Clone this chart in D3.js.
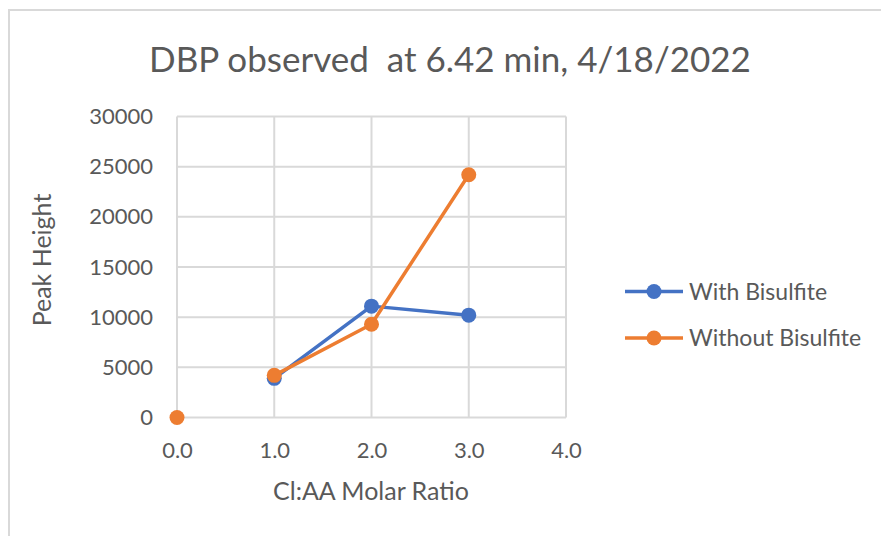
<!DOCTYPE html>
<html>
<head>
<meta charset="utf-8">
<script src="https://cdn.jsdelivr.net/npm/d3@7"></script>
<style>
  body { margin: 0; background: #fff; }
  text { font-family: Lato, "Open Sans", sans-serif; fill: #595959; }
</style>
</head>
<body>
<div id="chart"></div>
<script>
// Data
const seriesNames = ["With Bisulfite", "Without Bisulfite"];
const withX = [1, 2, 3];
const withY = [3900, 11100, 10200];
// null marks a break in the line (the 0.0 point stands alone)
const withoutX = [0, null, 1, 2, 3];
const withoutY = [0, null, 4200, 9300, 24200];
const xTicks = [0, 1, 2, 3, 4];
const yTicks = [0, 5000, 10000, 15000, 20000, 25000, 30000];

const width = 881, height = 536;
const colors = ["#4472C4", "#ED7D31"];

const svg = d3.select('#chart')
    .append('svg')
    .attr('width', width)
    .attr('height', height);

// chart border
svg.append('rect')
    .attr('x', 9).attr('y', 10)
    .attr('width', 900).attr('height', 600)
    .attr('fill', 'none')
    .attr('stroke', '#d9d9d9')
    .attr('stroke-width', 2);

const x = d3.scaleLinear().domain([0, 4]).range([177, 566]);
const y = d3.scaleLinear().domain([0, 30000]).range([417.5, 116.5]);

// gridlines
svg.append('g')
    .selectAll('line.h')
    .data(yTicks)
    .join('line')
    .attr('x1', x(0)).attr('x2', x(4))
    .attr('y1', d => y(d)).attr('y2', d => y(d))
    .attr('stroke', '#d9d9d9').attr('stroke-width', 2);

svg.append('g')
    .selectAll('line.v')
    .data(xTicks)
    .join('line')
    .attr('x1', d => x(d)).attr('x2', d => x(d))
    .attr('y1', y(0)).attr('y2', y(30000))
    .attr('stroke', '#d9d9d9').attr('stroke-width', 2);

// axes (labels only)
const yAxis = svg.append('g')
    .attr('transform', 'translate(' + 153 + ',0)')
    .call(d3.axisLeft(y).tickValues(yTicks).tickSize(0).tickPadding(0).tickFormat(d3.format('d')));
const xAxis = svg.append('g')
    .attr('transform', 'translate(0,' + 442 + ')')
    .call(d3.axisBottom(x).tickValues(xTicks).tickSize(0).tickPadding(0).tickFormat(d3.format('.1f')));
svg.selectAll('.domain').remove();
svg.selectAll('.tick text')
    .style('font-size', '22px')
    .style('font-family', 'Lato, sans-serif')
    .attr('fill', '#595959');

// title and axis titles
svg.append('text')
    .attr('x', 450).attr('y', 72)
    .attr('text-anchor', 'middle')
    .attr('xml:space', 'preserve')
    .style('font-size', '35px')
    .text('DBP observed  at 6.42 min, 4/18/2022');

svg.append('text')
    .attr('transform', 'translate(51,260) rotate(-90)')
    .attr('text-anchor', 'middle')
    .style('font-size', '25px')
    .text('Peak Height');

svg.append('text')
    .attr('x', 371).attr('y', 500)
    .attr('text-anchor', 'middle')
    .style('font-size', '25px')
    .text('Cl:AA Molar Ratio');

// series
const series = [
    withX.map((d, i) => ({ x: d, y: withY[i] })),
    withoutX.map((d, i) => ({ x: d, y: withoutY[i] }))
];

const line = d3.line()
    .defined(d => d.x !== null && d.y !== null)
    .x(d => x(d.x))
    .y(d => y(d.y));

series.forEach((s, i) => {
    svg.append('path')
        .datum(s)
        .attr('d', line)
        .attr('fill', 'none')
        .attr('stroke', colors[i])
        .attr('stroke-width', 3.5)
        .attr('stroke-linejoin', 'round');
});
series.forEach((s, i) => {
    svg.append('g')
        .selectAll('circle')
        .data(s.filter(d => d.x !== null))
        .join('circle')
        .attr('cx', d => x(d.x))
        .attr('cy', d => y(d.y))
        .attr('r', 7.5)
        .attr('fill', colors[i]);
});

// legend
const legend = svg.append('g')
    .selectAll('g')
    .data(seriesNames)
    .join('g')
    .attr('transform', (d, i) => 'translate(625,' + (291.5 + i * 46.5) + ')');
legend.append('line')
    .attr('x1', 0).attr('x2', 58)
    .attr('stroke', (d, i) => colors[i])
    .attr('stroke-width', 3.5);
legend.append('circle')
    .attr('cx', 29).attr('r', 7.5)
    .attr('fill', (d, i) => colors[i]);
legend.append('text')
    .attr('x', 64).attr('dy', '0.35em')
    .style('font-size', '23px')
    .text(d => d);
</script>
</body>
</html>
